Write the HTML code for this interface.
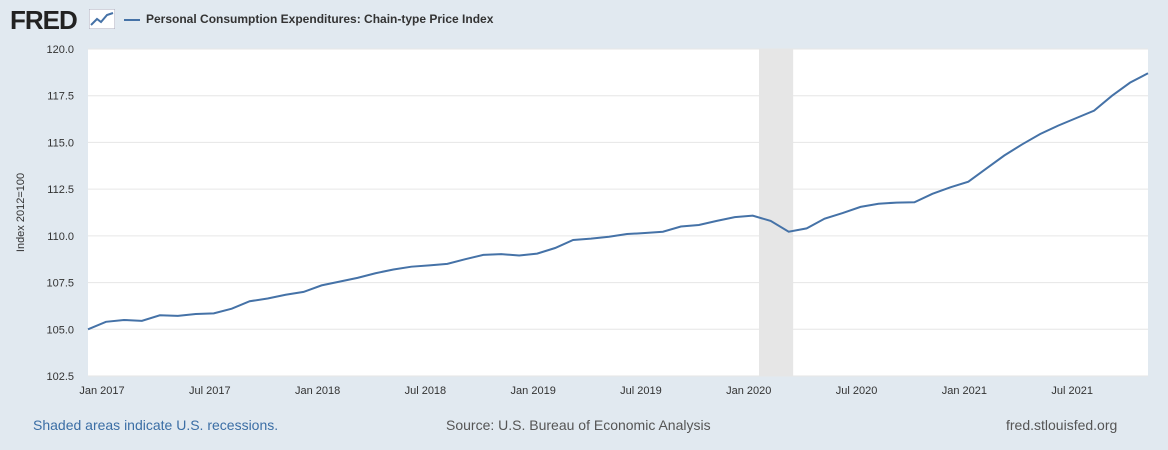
<!DOCTYPE html>
<html><head><meta charset="utf-8"><style>
body{margin:0;width:1168px;height:450px;background:#e1e9f0;font-family:"Liberation Sans",sans-serif;overflow:hidden;position:relative}
.t{position:absolute;white-space:nowrap}
</style></head><body>
<div class="t" style="left:10px;top:5px;font-size:26px;font-weight:bold;letter-spacing:-1px;color:#222">FRED</div>
<svg style="position:absolute;left:89px;top:9px" width="26" height="20"><rect x="0" y="0" width="26" height="20" fill="#fff" stroke="#aab"/><polyline points="2,16 8,10 12,13 18,6 24,4" fill="none" stroke="#4572a7" stroke-width="2"/></svg>
<div class="t" style="left:124px;top:12px;font-size:12px;font-weight:bold;color:#333"><span style="display:inline-block;width:16px;height:2px;background:#4572a7;vertical-align:middle;margin-right:6px"></span>Personal Consumption Expenditures: Chain-type Price Index</div>
<svg id="c" width="1168" height="450" style="position:absolute;left:0;top:0"></svg>
<div class="t" style="left:33px;top:417px;font-size:14px;color:#3b6ea5">Shaded areas indicate U.S. recessions.</div>
<div class="t" style="left:446px;top:417px;font-size:14px;color:#555">Source: U.S. Bureau of Economic Analysis</div>
<div class="t" style="left:1006px;top:417px;font-size:14px;color:#555">fred.stlouisfed.org</div>
<script>
const values=[105.0,105.4,105.5,105.45,105.75,105.72,105.82,105.85,106.1,106.5,106.65,106.85,
107.0,107.35,107.55,107.75,108.0,108.2,108.35,108.42,108.5,108.75,108.98,109.02,
108.95,109.05,109.35,109.78,109.85,109.95,110.1,110.15,110.22,110.5,110.58,110.8,
111.0,111.08,110.8,110.22,110.4,110.92,111.22,111.55,111.72,111.78,111.8,112.25,
112.6,112.9,113.6,114.3,114.9,115.45,115.9,116.3,116.7,117.5,118.2,118.7];
const yTicks=[102.5,105.0,107.5,110.0,112.5,115.0,117.5,120.0];
const xLabels=["Jan 2017","Jul 2017","Jan 2018","Jul 2018","Jan 2019","Jul 2019","Jan 2020","Jul 2020","Jan 2021","Jul 2021"];
const xLabelIdx=[0,6,12,18,24,30,36,42,48,54];
const recession=[37.35,39.25];
const NS="http://www.w3.org/2000/svg",svg=document.getElementById('c');
const L=88,R=1148,T=49,B=376;
const x=i=>L+i*(R-L)/(values.length-1);
const y=v=>B-(v-102.5)*(B-T)/17.5;
function mk(t,a){const e=document.createElementNS(NS,t);for(const k in a)e.setAttribute(k,a[k]);svg.appendChild(e);return e;}
const bg=mk('rect',{x:L,y:T,width:R-L,height:B-T,fill:'#fff'});


const rec=mk('rect',{x:x(recession[0]),y:T,width:x(recession[1])-x(recession[0]),height:B-T,fill:'#e6e6e6'});


yTicks.forEach(v=>{
 const g=mk('line',{x1:L,x2:R,y1:y(v),y2:y(v),stroke:'#e6e6e6'});
 
 
 const t=mk('text',{x:L-14,y:y(v)+4,'text-anchor':'end','font-size':11,fill:'#333'});
 t.textContent=v.toFixed(1);
 
 
});
xLabels.forEach((s,k)=>{
 const t=mk('text',{x:x(xLabelIdx[k])+14,y:B+18,'text-anchor':'middle','font-size':11,fill:'#333'});
 t.textContent=s;
 
 
});
const yt=mk('text',{x:24,y:(T+B)/2,'text-anchor':'middle','font-size':11,fill:'#333',transform:`rotate(-90 24 ${(T+B)/2})`});
yt.textContent='Index 2012=100';


const line=mk('polyline',{points:values.map((v,i)=>x(i)+','+y(v)).join(' '),fill:'none',stroke:'#4572a7','stroke-width':2});


</script>
</body></html>
